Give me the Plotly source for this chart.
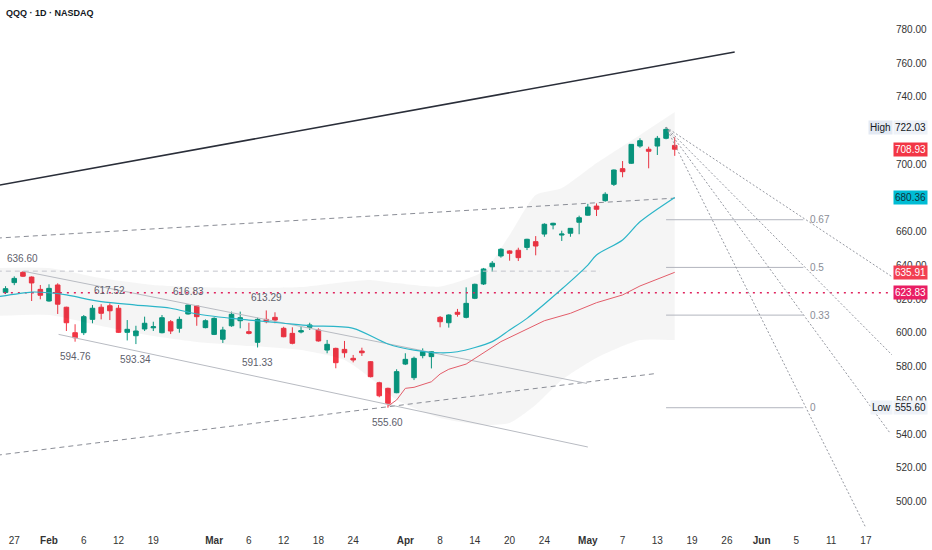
import pandas as pd
import plotly.graph_objects as go

# trading calendar (weekends and NYSE holidays skipped)
holidays = ["2026-02-16", "2026-04-03", "2026-05-25"]
days = pd.bdate_range("2026-01-23", "2026-06-30", freq="C", holidays=holidays)
pos = {d.strftime("%Y-%m-%d"): k for k, d in enumerate(days)}

# daily candles, 2026-01-23 .. 2026-05-15
opens = [620.4, 624.0, 629.8, 635.9, 633.1, 625.8, 618.9, 628.4, 615.2, 600.1,
         600.1, 608.0, 615.2, 616.1, 614.6, 600.3, 598.3, 602.3, 603.0, 600.1,
         606.6, 602.7, 611.2, 616.0, 603.1, 599.1, 596.2, 604.2, 607.2, 600.7,
         594.4, 608.0, 609.2, 602.7, 599.7, 600.5, 603.3, 601.7, 589.8, 590.8,
         590.2, 584.9, 589.2, 582.9, 570.4, 567.1, 564.5, 581.5, 573.4, 586.5,
         585.9, 609.2, 606.0, 612.2, 609.2, 620.5, 629.0, 639.2, 645.6, 648.6,
         649.0, 650.7, 654.1, 658.6, 664.0, 658.0, 659.1, 665.6, 669.8, 675.2,
         678.4, 688.1, 697.4, 700.6, 710.8, 708.9, 710.8, 715.4, 711.2]
highs = [624.0, 627.7, 633.5, 636.60, 633.5, 628.4, 628.8, 629.4, 615.5, 605.1,
         610.6, 616.5, 617.0, 617.52, 616.5, 607.6, 604.2, 609.6, 606.6, 610.6,
         607.6, 609.6, 616.83, 616.4, 608.0, 609.2, 603.6, 612.6, 612.6, 606.0,
         609.0, 613.29, 612.2, 603.6, 603.3, 603.6, 606.0, 602.7, 595.8, 591.2,
         595.2, 586.9, 591.2, 583.3, 571.0, 567.5, 578.4, 587.9, 585.9, 590.8,
         589.0, 610.0, 611.0, 614.2, 627.0, 629.2, 638.5, 642.6, 650.2, 649.0,
         650.5, 655.8, 657.4, 665.0, 665.3, 660.6, 662.2, 669.5, 676.5, 676.8,
         683.4, 696.9, 701.9, 712.0, 715.4, 710.4, 716.8, 722.03, 716.0]
lows = [619.5, 623.0, 628.3, 633.1, 618.9, 619.9, 618.5, 611.2, 601.1, 594.76,
        598.7, 605.7, 608.0, 607.6, 599.9, 595.5, 593.34, 601.1, 601.1, 599.7,
        599.3, 600.1, 610.8, 604.2, 602.7, 598.7, 594.0, 603.6, 602.7, 599.1,
        591.33, 605.7, 605.7, 597.4, 593.2, 599.7, 601.7, 594.8, 587.9, 579.0,
        585.3, 582.5, 586.3, 573.6, 561.8, 555.60, 564.2, 580.9, 572.0, 584.9,
        578.9, 603.3, 603.1, 609.6, 608.6, 620.0, 628.4, 636.3, 644.6, 642.8,
        642.6, 649.1, 646.0, 657.0, 661.4, 654.5, 657.0, 658.5, 669.5, 669.3,
        677.8, 687.1, 692.3, 700.2, 709.8, 697.6, 705.5, 714.8, 705.0]
closes = [623.2, 626.2, 632.3, 633.6, 629.6, 622.3, 626.4, 617.0, 606.0, 597.1,
          609.6, 614.6, 611.6, 613.1, 600.3, 602.1, 601.1, 605.7, 603.6, 609.0,
          601.1, 608.0, 616.5, 609.6, 607.2, 608.6, 601.7, 611.0, 609.0, 599.7,
          608.0, 606.6, 607.6, 597.7, 593.8, 601.3, 604.7, 595.2, 593.2, 582.3,
          588.2, 583.9, 588.2, 574.0, 562.7, 558.2, 577.0, 584.3, 584.9, 588.8,
          588.8, 606.6, 610.6, 611.0, 617.5, 628.8, 637.9, 641.3, 649.6, 647.2,
          644.6, 655.5, 651.5, 664.4, 665.0, 658.6, 662.0, 668.3, 674.6, 673.3,
          682.2, 696.6, 695.6, 711.8, 714.0, 707.7, 715.4, 720.7, 708.93]
bar_x = list(range(len(opens)))
bar_dates = [d.strftime("%Y-%m-%d") for d in days[:len(opens)]]

# moving average (cyan), read at bar positions
ma_x = [0, 4, 6, 8, 12, 16, 20, 23, 27, 29, 33, 36, 41, 45, 48, 51, 53, 57, 59, 61,
        65, 68, 69, 72, 74, 78]
ma_y = [621.3, 624.2, 623.8, 622.5, 618.5, 616.5, 614.6, 611.2, 608.6, 607.6, 605.7,
        604.2, 602.7, 593.4, 589.8, 588.2, 588.8, 594.8, 601.7, 608.6, 626.0, 640.2,
        646.2, 655.1, 665.9, 680.36]

# anchored vwap from the low (red)
vwap_x = [45, 46, 47, 48, 50, 51, 52, 54, 58, 60, 63, 66, 69, 72, 74, 78]
vwap_y = [556.5, 560.2, 567.1, 567.7, 571.0, 575.6, 578.4, 581.5, 594.8, 599.7,
          607.2, 611.6, 617.9, 622.5, 627.8, 635.91]

# shaded band
band_x = [0, 6, 12, 18, 23, 29, 35, 40, 43, 46, 51, 56, 59, 62, 65, 69, 74, 78]
band_up = [638.5, 638.5, 632.5, 628.4, 627.2, 626.6, 627.2, 630.2, 631.4, 629.5,
           627.5, 636.5, 658.0, 681.8, 685.9, 700.7, 717.4, 731.0]
band_lo = [610.0, 610.6, 604.1, 598.1, 594.6, 592.2, 589.8, 583.9, 573.2, 560.2,
           549.5, 545.3, 546.5, 557.2, 572.0, 585.1, 595.7, 595.7]

# drawings: (bar index, price) end points
trend_top = ([0, 84.9], [687.4, 766.6])
dash_upper = ([0, 78], [656.2, 679.9])
dash_lower = ([0, 75.7], [527.4, 575.8])
chan_upper = ([3, 67.9], [636.60, 570.0])
chan_lower = ([7.1, 68.0], [599.1, 532.3])
swing_line = ([0, 69.4], [636.60, 636.60])
alert_price = 623.83
fan_ends = [(103, 633.3), (103, 586.9), (102.8, 540.4), (100, 484.3)]
fib_levels = [0, 0.33, 0.5, 0.67]
fib_end = 92.8

tick_dates = ["2026-01-27", "2026-02-02", "2026-02-06", "2026-02-12", "2026-02-19",
              "2026-03-02", "2026-03-06", "2026-03-12", "2026-03-18", "2026-03-24",
              "2026-04-01", "2026-04-08", "2026-04-14", "2026-04-20", "2026-04-24",
              "2026-05-01", "2026-05-07", "2026-05-13", "2026-05-19", "2026-05-26",
              "2026-06-01", "2026-06-05", "2026-06-11", "2026-06-17"]
tick_text = ["27", "<b>Feb</b>", "6", "12", "19", "<b>Mar</b>", "6", "12", "18", "24",
             "<b>Apr</b>", "8", "14", "20", "24", "<b>May</b>", "7", "13", "19", "26",
             "<b>Jun</b>", "5", "11", "17"]
price_ticks = list(range(500, 781, 20))
hidden_ticks = [680, 720]  # fully covered by the price tags

swing_high_vals = [636.60, 617.52, 616.83, 613.29]
swing_low_vals = [594.76, 593.34, 591.33, 555.60]

GREEN = "#089981"
RED = "#f23645"

fig = go.Figure()

# band
fig.add_trace(go.Scatter(x=band_x, y=band_up, mode="lines", line=dict(width=0, shape="spline", smoothing=0.6),
                         hoverinfo="skip"))
fig.add_trace(go.Scatter(x=band_x, y=band_lo, mode="lines", line=dict(width=0, shape="spline", smoothing=0.6),
                         fill="tonexty", fillcolor="rgba(0,0,0,0.04)", hoverinfo="skip"))

def seg(xy, color, width=1, dash="solid"):
    fig.add_trace(go.Scatter(x=xy[0], y=xy[1], mode="lines", hoverinfo="skip",
                             line=dict(color=color, width=width, dash=dash)))

seg(trend_top, "#2a2e39", 1.6)
seg(dash_upper, "#8a8d96", 1, "5px,4px")
seg(dash_lower, "#8a8d96", 1, "5px,4px")
seg(swing_line, "#c3c5cc", 1, "5px,4px")
seg(chan_upper, "#b8bbc2", 1)
seg(chan_lower, "#b8bbc2", 1)
seg(([0, 103], [alert_price, alert_price]), "#e0245e", 1.6, "2px,5px")

# fib retracement
lo, hi = min(lows), max(highs)
k_hi = highs.index(hi)
for f in fib_levels:
    p = lo + f * (hi - lo)
    seg(([k_hi, fib_end], [p, p]), "#b2b5be", 1)

# fan lines
for ex, ey in fan_ends:
    seg(([k_hi, ex], [hi, ey]), "#9598a1", 1, "2px,2px")

# indicators
fig.add_trace(go.Scatter(x=ma_x, y=ma_y, mode="lines", hoverinfo="skip",
                         line=dict(color="#2bb5c8", width=1.2, shape="spline", smoothing=0.8)))
fig.add_trace(go.Scatter(x=vwap_x, y=vwap_y, mode="lines", hoverinfo="skip",
                         line=dict(color="#e35d6a", width=1)))

fig.add_trace(go.Candlestick(
    x=bar_x, open=opens, high=highs, low=lows, close=closes, text=bar_dates,
    increasing=dict(line=dict(color=GREEN, width=1), fillcolor=GREEN),
    decreasing=dict(line=dict(color=RED, width=1), fillcolor=RED),
))

annotations = [dict(xref="paper", yref="paper", x=0, y=1, xanchor="left", yanchor="top",
                    xshift=4, yshift=-6, showarrow=False,
                    text="<b>QQQ · 1D · NASDAQ</b>", font=dict(size=9, color="#131722"))]

for v in swing_high_vals:
    annotations.append(dict(x=highs.index(v), y=v, text=f"{v:.2f}", showarrow=False,
                            yshift=13, font=dict(size=10, color="#5d606b")))
for v in swing_low_vals:
    annotations.append(dict(x=lows.index(v), y=v, text=f"{v:.2f}", showarrow=False,
                            yshift=-15, font=dict(size=10, color="#5d606b")))

for f in fib_levels:
    p = lo + f * (hi - lo)
    annotations.append(dict(x=fib_end, y=p, text=f"{f:g}", showarrow=False, xanchor="left",
                            xshift=5, font=dict(size=10, color="#8a8d96")))

def tag(price, text, bg, fg="white"):
    annotations.append(dict(xref="paper", x=1, y=price, text=text, showarrow=False,
                            xanchor="left", xshift=1, bgcolor=bg, borderpad=1,
                            font=dict(size=10, color=fg)))

tag(hi, f"{hi:.2f}", "#eef2f8", "#131722")
tag(lo, f"{lo:.2f}", "#eef2f8", "#131722")
annotations.append(dict(xref="paper", x=1, y=hi, text="High", showarrow=False, xanchor="right",
                        xshift=1, bgcolor="#e3e9f3", borderpad=1, font=dict(size=10, color="#131722")))
annotations.append(dict(xref="paper", x=1, y=lo, text="Low", showarrow=False, xanchor="right",
                        xshift=1, bgcolor="#eef2f8", borderpad=1, font=dict(size=10, color="#131722")))
tag(closes[-1], f"{closes[-1]:.2f}", RED)
tag(ma_y[-1], f"{ma_y[-1]:.2f}", "#00bcd4", "#10323a")
tag(vwap_y[-1], f"{vwap_y[-1]:.2f}", "#f23f52")
tag(alert_price, f"{alert_price:.2f}", "#e91e63")

fig.update_layout(
    width=932, height=550,
    margin=dict(l=0, r=40, t=0, b=20),
    plot_bgcolor="white", paper_bgcolor="white",
    showlegend=False,
    boxgap=0.25,
    font=dict(family="Liberation Sans, Arial, sans-serif", size=10, color="#333333"),
    annotations=annotations,
    xaxis=dict(range=[0.36, 103.0], tickvals=[pos[d] for d in tick_dates], ticktext=tick_text,
               showgrid=False, zeroline=False, showline=False, ticks="", ticklabelstandoff=3,
               rangeslider=dict(visible=False), tickfont=dict(size=10, color="#333333")),
    yaxis=dict(range=[483.07, 797.43], side="right", tickvals=price_ticks,
               ticktext=["" if v in hidden_ticks else f"{v:.2f}" for v in price_ticks],
               showgrid=False, zeroline=False, ticklabelstandoff=3,
               showline=False, ticks="", tickfont=dict(size=10, color="#333333")),
)

# drop the default page margin so the 932x550 figure fills the window
fig.write_html("out.html", config={"displayModeBar": False},
               post_script="document.body.style.margin='0';")
